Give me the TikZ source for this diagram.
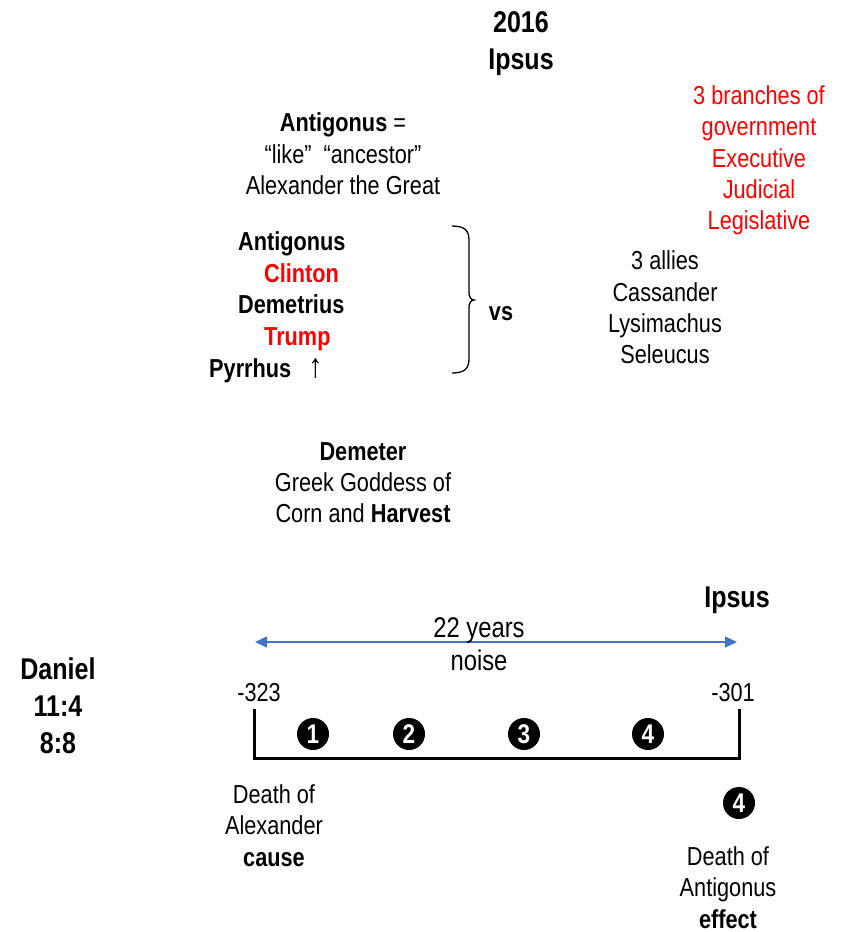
\documentclass[tikz,border=0pt]{standalone}
\usepackage{fontspec}
\setmainfont[FakeStretch=0.835]{Liberation Sans}
\usetikzlibrary{arrows.meta}
\definecolor{arrowblue}{HTML}{4472C4}
\begin{document}
\begin{tikzpicture}[x=1pt,y=-1pt,
  txt/.style={font=\fontsize{26}{31.3}\selectfont, inner sep=0pt, align=center},
  boldtxt/.style={txt, font=\fontsize{26}{31.3}\selectfont\bfseries},
  bigtxt/.style={txt, font=\fontsize{28.5}{34}\selectfont},
  big/.style={font=\fontsize{30}{37}\selectfont\bfseries, inner sep=0pt, align=center},
  redtxt/.style={text=red},
  numdot/.style={circle, fill=black, text=white, inner sep=0pt, minimum size=32pt,
    font=\fontsize{27}{27}\selectfont\bfseries},
  timebar/.style={line width=3pt, line cap=rect},
  span/.style={arrowblue, line width=1.3pt, {Triangle[width=11pt,length=12pt]}-{Triangle[width=11pt,length=12pt]}}
]
\useasboundingbox (0,0) rectangle (844,932);

% title
\node[big, anchor=base] (year) at (521,32) {2016};
\node[big, anchor=base] (ipsustop) at (521,69) {Ipsus};

% three branches
\node[txt, redtxt] (branches) at (759,160.5) {3 branches of\\government\\Executive\\Judicial\\Legislative};

% name meaning
\node[txt] (meaning) at (343,154) {\textbf{Antigonus} =\\“like”\ \ “ancestor”\\Alexander the Great};

% left column of names
\node[boldtxt, anchor=base west] (n1) at (238,250) {Antigonus};
\node[boldtxt, anchor=base west, redtxt] (n2) at (264,282) {Clinton};
\node[boldtxt, anchor=base west] (n3) at (238,313) {Demetrius};
\node[boldtxt, anchor=base west, redtxt] (n4) at (264,345) {Trump};
\node[boldtxt, anchor=base west] (n5) at (209,377) {Pyrrhus\hspace{17pt}\mdseries\fontsize{34}{34}\selectfont ↑};

% brace
\coordinate (bt) at (452,226);
\coordinate (bb) at (452,373);
\draw[line width=1.3pt] (bt) .. controls (464,226) and (469,230) .. (469,240)
  -- (469,292) .. controls (469,297) and (471,300) .. (474,300)
  .. controls (471,300) and (469,303) .. (469,308)
  -- (469,359) .. controls (469,369) and (464,373) .. (bb);
\node[boldtxt, anchor=base] (vs) at (501,320) {vs};

% allies
\node[txt] (allies) at (665,307.5) {3 allies\\Cassander\\Lysimachus\\Seleucus};

% Demeter
\node[txt] (demeter) at (363,482.5) {\textbf{Demeter}\\Greek Goddess of\\Corn and \textbf{Harvest}};

% timeline
\node[big, anchor=base] (ipsusend) at (737,607) {Ipsus};
\coordinate (spanL) at (255,642);
\coordinate (spanR) at (737,642);
\draw[span] (spanL) -- (spanR);
\node[bigtxt, anchor=base] (years) at (479,637) {22 years};
\node[bigtxt, anchor=base] (noise) at (479,670) {noise};

\node[big] (daniel) at (58,706) {Daniel\\11:4\\8:8};

\node[txt, anchor=base] (startyr) at (259,701) {-323};
\node[txt, anchor=base] (endyr) at (733,701) {-301};

\coordinate (tl) at (254,710);
\coordinate (bl) at (254,758);
\coordinate (br) at (739,758);
\coordinate (tr) at (739,710);
\draw[timebar] (tl) -- (bl) -- (br) -- (tr);

\node[numdot] (d1) at (313,734) {1};
\node[numdot] (d2) at (409,734) {2};
\node[numdot] (d3) at (524,734) {3};
\node[numdot] (d4) at (648,734) {4};
\node[numdot] (d4b) at (739,803) {4};

\node[txt] (cause) at (274,825.5) {Death of\\Alexander\\\textbf{cause}};

% effect label, one line per node
\node[txt, anchor=base] (eff1) at (728,865.5) {Death of};
\node[txt, anchor=base] (eff2) at (728,896.8) {Antigonus};
\node[boldtxt, anchor=base] (eff3) at (728,928) {effect};
\end{tikzpicture}
\end{document}
